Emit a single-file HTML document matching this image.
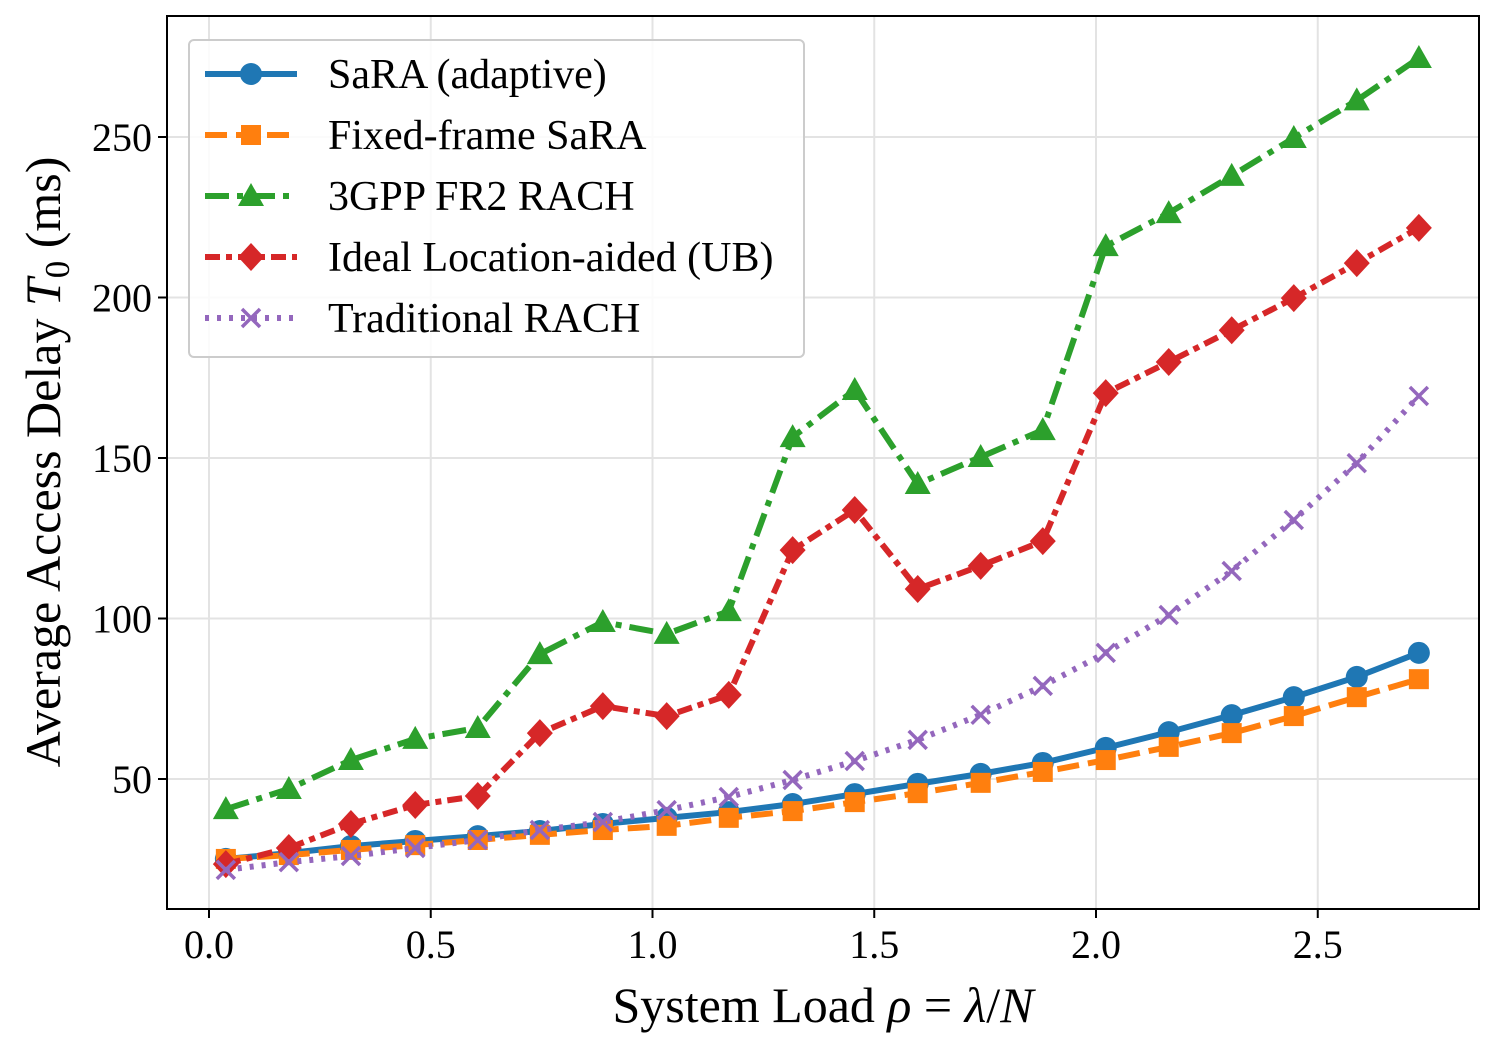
<!DOCTYPE html>
<html><head><meta charset="utf-8"><style>body{margin:0;background:#fff}svg{display:block;font-family:"Liberation Serif",serif}</style></head>
<body>
<svg id="chart" width="1497" height="1044" viewBox="0 0 1497 1044" xmlns="http://www.w3.org/2000/svg"></svg>
<script>
const xVals=[0.038,0.18,0.32,0.465,0.606,0.746,0.888,1.032,1.172,1.316,1.456,1.598,1.74,1.88,2.022,2.164,2.306,2.446,2.588,2.728];
const sara=[25.1,26.9,29.1,30.7,32.2,33.8,36.0,37.9,39.7,42.2,45.3,48.5,51.6,55.0,59.7,64.6,69.9,75.5,81.8,89.3];
const fixedSara=[25.1,26.3,27.9,29.4,31.0,32.6,34.1,35.4,37.9,40.0,42.8,45.6,48.8,52.2,55.9,60.0,64.3,69.6,75.5,81.1];
const gpp=[40.6,46.9,55.9,62.5,65.9,88.9,98.9,95.2,102.3,156.5,171.2,141.9,150.3,158.7,216.0,226.3,237.9,249.7,261.4,274.6];
const ideal=[23.5,28.5,36.0,41.9,44.7,64.3,72.7,69.6,76.2,121.3,133.8,109.2,116.4,124.1,170.2,179.9,189.8,199.8,210.7,221.7];
const trad=[21.7,24.1,26.0,28.5,31.0,34.1,36.6,40.3,44.4,49.7,55.6,62.2,70.0,79.0,89.3,101.1,114.8,130.7,148.4,169.3];
const xTicks=[0,0.5,1.0,1.5,2.0,2.5];
const xTickLabels=["0.0","0.5","1.0","1.5","2.0","2.5"];
const yTicks=[50,100,150,200,250];
const legendLabels=["SaRA (adaptive)","Fixed-frame SaRA","3GPP FR2 RACH","Ideal Location-aided (UB)","Traditional RACH"];

const NS="http://www.w3.org/2000/svg";
const svg=document.getElementById('chart');
const L=167,R=1479,T=16,B=909;
const X=v=>209+v*443.5;
const Y=v=>939.5-v*3.21;
function el(tag,attrs,parent){const e=document.createElementNS(NS,tag);for(const k in attrs)e.setAttribute(k,attrs[k]);(parent||svg).appendChild(e);return e;}

const grid=el('g',{});


xTicks.forEach((t,i)=>{
  el('line',{x1:X(t),x2:X(t),y1:T,y2:B,stroke:'#e3e3e3','stroke-width':2},grid);
  el('line',{x1:X(t),x2:X(t),y1:B,y2:B+9,stroke:'#000','stroke-width':2});
  const tx=el('text',{x:X(t),y:B+49,'font-size':40,'text-anchor':'middle'});
  tx.textContent=xTickLabels[i];
  
  
});
yTicks.forEach(t=>{
  el('line',{x1:L,x2:R,y1:Y(t),y2:Y(t),stroke:'#e3e3e3','stroke-width':2},grid);
  el('line',{x1:L-9,x2:L,y1:Y(t),y2:Y(t),stroke:'#000','stroke-width':2});
  const tx=el('text',{x:L-15,y:Y(t)+14,'font-size':40,'text-anchor':'end'});
  tx.textContent=t;
  
  
});

const series=[
 {d:sara,c:'#1f77b4',dash:'',m:'circle'},
 {d:fixedSara,c:'#ff7f0e',dash:'22 9',m:'square'},
 {d:gpp,c:'#2ca02c',dash:'24 8 6 8',m:'triangle'},
 {d:ideal,c:'#d62728',dash:'15 6 6 6',m:'diamond'},
 {d:trad,c:'#9467bd',dash:'4 8',m:'x'}
];
const names=['series-sara','series-fixed-frame-sara','series-3gpp-fr2-rach','series-ideal-location-aided','series-traditional-rach'];
function marker(m,x,y,c,g){
  if(m==='circle')el('circle',{cx:x,cy:y,r:11,fill:c},g);
  else if(m==='square')el('rect',{x:x-10,y:y-10,width:20,height:20,fill:c},g);
  else if(m==='triangle')el('polygon',{points:`${x},${y-13} ${x-13},${y+10} ${x+13},${y+10}`,fill:c},g);
  else if(m==='diamond')el('polygon',{points:`${x},${y-14} ${x+13},${y} ${x},${y+14} ${x-13},${y}`,fill:c},g);
  else{el('path',{d:`M${x-9},${y-9}L${x+9},${y+9}M${x-9},${y+9}L${x+9},${y-9}`,stroke:c,'stroke-width':3.5},g);}
}
series.forEach((s,i)=>{
  const g=el('g',{});
  
  
  const pts=s.d.map((v,j)=>X(xVals[j])+','+Y(v)).join(' ');
  el('polyline',{points:pts,fill:'none',stroke:s.c,'stroke-width':6,'stroke-dasharray':s.dash},g);
  s.d.forEach((v,j)=>marker(s.m,X(xVals[j]),Y(v),s.c,g));
});

el('rect',{x:L,y:T,width:R-L,height:B-T,fill:'none',stroke:'#000','stroke-width':2});

const leg=el('g',{});


el('rect',{x:189,y:40,width:615,height:317,rx:5,fill:'#fff','fill-opacity':0.85,stroke:'#ccc','stroke-width':2},leg);
series.forEach((s,i)=>{
  const y=74+i*61;
  const e=el('g',{},leg);
  
  
  el('line',{x1:205,x2:297,y1:y,y2:y,stroke:s.c,'stroke-width':6,'stroke-dasharray':s.dash},e);
  marker(s.m,251,y,s.c,e);
  const t=el('text',{x:328,y:y+14,'font-size':42},e);
  t.textContent=legendLabels[i];
});

const xt=el('text',{x:823,y:1022,'font-size':50,'text-anchor':'middle'});


xt.innerHTML='System Load <tspan font-style="italic">ρ</tspan> = <tspan font-style="italic">λ</tspan>/<tspan font-style="italic">N</tspan>';
const yt=el('text',{transform:'translate(60,462) rotate(-90)','font-size':50,'text-anchor':'middle'});


yt.innerHTML='Average Access Delay <tspan font-style="italic">T</tspan><tspan font-size="35" dy="9">0</tspan><tspan dy="-9"> (ms)</tspan>';
</script>
</body></html>
